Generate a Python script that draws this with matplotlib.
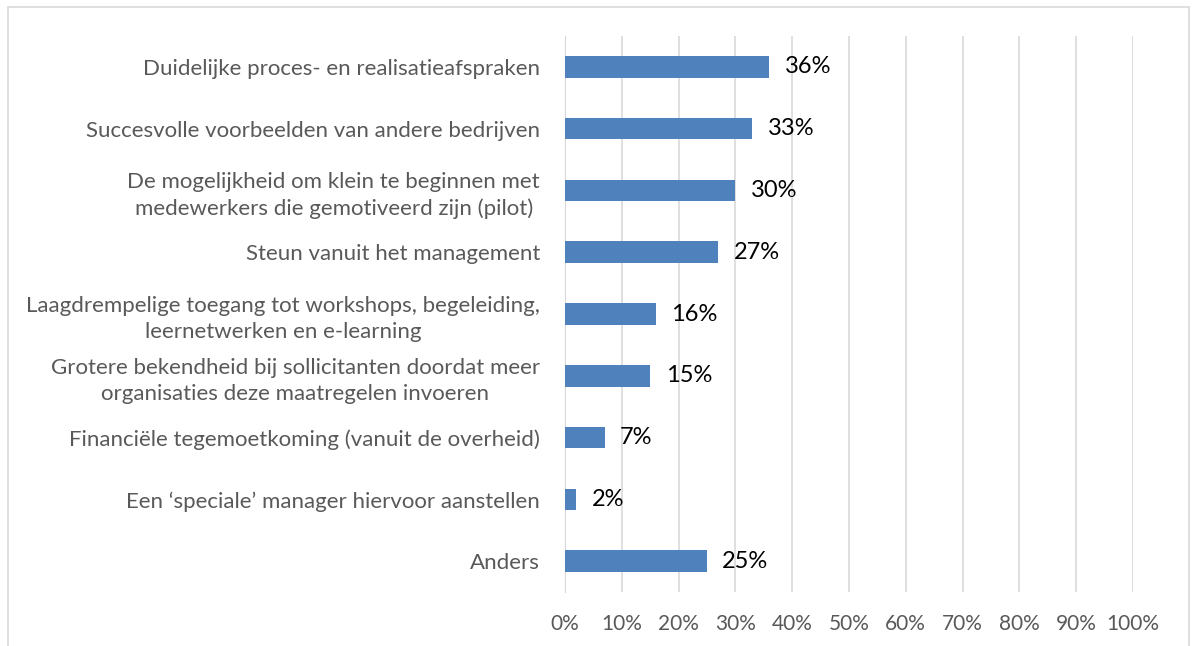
import matplotlib.pyplot as plt
from matplotlib.patches import Rectangle

categories = [
    "Duidelijke proces- en realisatieafspraken",
    "Succesvolle voorbeelden van andere bedrijven",
    "De mogelijkheid om klein te beginnen met\nmedewerkers die gemotiveerd zijn (pilot)",
    "Steun vanuit het management",
    "Laagdrempelige toegang tot workshops, begeleiding,\nleernetwerken en e-learning",
    "Grotere bekendheid bij sollicitanten doordat meer\norganisaties deze maatregelen invoeren",
    "Financiële tegemoetkoming (vanuit de overheid)",
    "Een \u2018speciale\u2019 manager hiervoor aanstellen",
    "Anders",
]
values = [36, 33, 30, 27, 16, 15, 7, 2, 25]
xticks = [0, 10, 20, 30, 40, 50, 60, 70, 80, 90, 100]

plt.rcParams['font.family'] = ['Lato', 'DejaVu Sans']

fig = plt.figure(figsize=(11.94, 6.46), dpi=100)
ax = fig.add_axes([565 / 1194, 1 - 592 / 646, (1133 - 565) / 1194, (592 - 36) / 646])

pos = list(range(len(categories)))[::-1]
ax.barh(pos, values, height=0.35, color='#4f81bd', zorder=3)
for p, v in zip(pos, values):
    ax.text(v + 2.7, p, f"{v}%", va='center', ha='left', fontsize=17, color='black')

ax.set_xlim(0, 100)
ax.set_ylim(-0.5, len(categories) - 0.5)
ax.set_xticks(xticks)
ax.set_xticklabels([f"{t}%" for t in xticks], fontsize=15, color='#595959')
ax.set_yticks(pos)
ax.set_yticklabels(categories, fontsize=16, color='#595959', linespacing=1.38)
for lab in ax.get_yticklabels():
    lab.set_multialignment('center')
ax.tick_params(axis='both', length=0)
ax.tick_params(axis='y', pad=18)
ax.tick_params(axis='x', pad=16)
ax.grid(axis='x', color='#d9d9d9', linewidth=1.2, zorder=0)
for s in ['top', 'right', 'bottom']:
    ax.spines[s].set_visible(False)
ax.spines['left'].set_color('#d9d9d9')

fig.patches.append(Rectangle((8 / 1194, -0.05), (1189 - 8) / 1194, 1.05 - 7 / 646,
                             transform=fig.transFigure, fill=False,
                             edgecolor='#d9d9d9', linewidth=1.2))

fig.savefig("out.png", dpi=100)
